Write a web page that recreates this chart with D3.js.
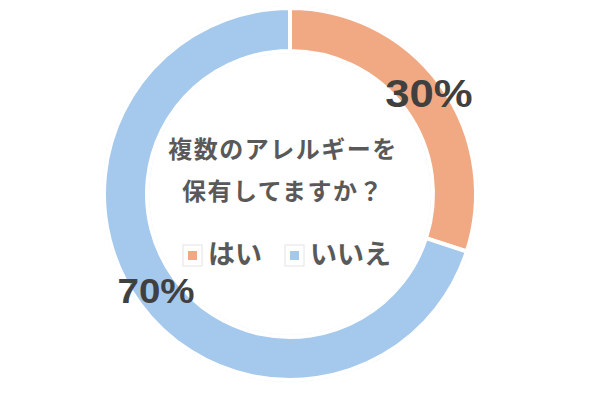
<!DOCTYPE html>
<html>
<head>
<meta charset="utf-8">
<script src="https://cdn.jsdelivr.net/npm/d3@7"></script>
<style>
  body { margin: 0; background: #fff; }
</style>
</head>
<body>
<svg width="600" height="400"></svg>
<script>
var categories = ["はい", "いいえ"];
var values = [30, 70];
var labels = ["30%", "70%"];
var colors = ["#F1A983", "#A5C8ED"];
var titleLines = ["複数のアレルギーを", "保有してますか？"];

var svg = d3.select("svg"),
    cx = 290, cy = 194,
    outerR = 186, innerR = 143;

var g = svg.append("g")
    .attr("transform", "translate(" + cx + "," + cy + ")");

var pie = d3.pie().sort(null).value(function (d) { return d; });
var arc = d3.arc().innerRadius(innerR).outerRadius(outerR);
var arcs = pie(values);

// faint outline round the ring
g.append("circle")
    .attr("r", outerR + 1.5)
    .attr("fill", "none")
    .attr("stroke", "#ececec")
    .attr("stroke-width", 1);
g.append("circle")
    .attr("r", innerR - 1.5)
    .attr("fill", "none")
    .attr("stroke", "#ececec")
    .attr("stroke-width", 1);

g.selectAll(".slice")
    .data(arcs)
    .enter().append("path")
    .attr("class", "slice")
    .attr("d", arc)
    .attr("fill", function (d, i) { return colors[i]; })
    .attr("stroke", "#fff")
    .attr("stroke-width", 4);

// percent labels (glyphs are a bit wider than Arial in the original)
var labelPos = [
    {x: 429 - cx, y: 107 - cy, size: 38, sx: 1.15},
    {x: 156 - cx, y: 303 - cy, size: 35, sx: 1.1}
];
g.selectAll(".pct")
    .data(arcs)
    .enter().append("text")
    .attr("class", "pct")
    .attr("transform", function (d, i) {
        return "translate(" + labelPos[i].x + "," + labelPos[i].y + ") scale(" + labelPos[i].sx + ",1)";
    })
    .attr("text-anchor", "middle")
    .attr("font-family", "Liberation Sans, Arial, sans-serif")
    .attr("font-weight", "bold")
    .attr("font-size", function (d, i) { return labelPos[i].size; })
    .attr("fill", "#404040")
    .text(function (d, i) { return labels[i]; });

// title in the middle
svg.selectAll(".title")
    .data(titleLines)
    .enter().append("text")
    .attr("class", "title")
    .attr("x", 283)
    .attr("y", function (d, i) { return 158 + i * 42; })
    .attr("text-anchor", "middle")
    .attr("font-family", "Noto Sans CJK JP, sans-serif")
    .attr("font-weight", "bold")
    .attr("font-size", 24)
    .attr("letter-spacing", 1.5)
    .attr("fill", "#595959")
    .text(function (d) { return d; });

// legend
var legendX = [188, 290];
var legend = svg.selectAll(".legend")
    .data(categories)
    .enter().append("g")
    .attr("class", "legend")
    .attr("transform", function (d, i) { return "translate(" + legendX[i] + ",251)"; });

legend.append("rect")
    .attr("x", -5).attr("y", -6)
    .attr("width", 19).attr("height", 21)
    .attr("fill", "none")
    .attr("stroke", "#e4e4e4")
    .attr("stroke-width", 1);
legend.append("rect")
    .attr("width", 9).attr("height", 9)
    .attr("fill", function (d, i) { return colors[i]; });
legend.append("text")
    .attr("x", 20)
    .attr("y", 13)
    .attr("font-family", "Noto Sans CJK JP, sans-serif")
    .attr("font-weight", "bold")
    .attr("font-size", 27)
    .attr("fill", "#595959")
    .text(function (d) { return d; });
</script>
</body>
</html>
